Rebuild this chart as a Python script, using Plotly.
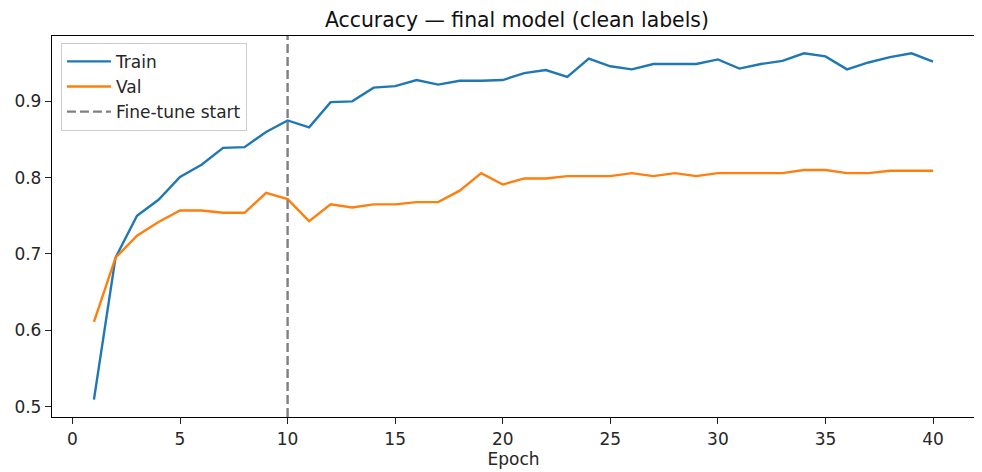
import plotly.graph_objects as go

epochs = list(range(1, 41))
train_acc = [0.509, 0.695, 0.750, 0.771, 0.801, 0.817, 0.839, 0.840, 0.860, 0.875,
             0.866, 0.899, 0.900, 0.918, 0.920, 0.928, 0.922, 0.927, 0.927, 0.928,
             0.937, 0.941, 0.932, 0.956, 0.946, 0.942, 0.949, 0.949, 0.949, 0.955,
             0.943, 0.949, 0.953, 0.963, 0.959, 0.942, 0.951, 0.958, 0.963, 0.952]
val_acc = [0.611, 0.695, 0.724, 0.742, 0.757, 0.757, 0.754, 0.754, 0.780, 0.772,
           0.743, 0.765, 0.761, 0.765, 0.765, 0.768, 0.768, 0.783, 0.806, 0.791,
           0.799, 0.799, 0.802, 0.802, 0.802, 0.806, 0.802, 0.806, 0.802, 0.806,
           0.806, 0.806, 0.806, 0.810, 0.810, 0.806, 0.806, 0.809, 0.809, 0.809]
fine_tune_epoch = 10
x_ticks = [0, 5, 10, 15, 20, 25, 30, 35, 40]
y_ticks = [0.5, 0.6, 0.7, 0.8, 0.9]

FONT = "DejaVu Sans"
TXT = "#262626"

fig = go.Figure()
fig.add_trace(go.Scatter(x=epochs, y=train_acc, mode="lines", name="Train",
                         line=dict(color="#1f77b4", width=2.4)))
fig.add_trace(go.Scatter(x=epochs, y=val_acc, mode="lines", name="Val",
                         line=dict(color="#ff7f0e", width=2.4)))
fig.add_shape(type="line", xref="x", yref="paper", x0=fine_tune_epoch, x1=fine_tune_epoch,
              y0=0, y1=1, line=dict(color="#808080", width=2.4, dash="9px,4px"),
              showlegend=True, name="Fine-tune start", layer="above")

ymin = min(train_acc + val_acc)
ymax = max(train_acc + val_acc)
pad_y = 0.05 * (ymax - ymin)
pad_x = 0.05 * (epochs[-1] - epochs[0])

axis_common = dict(showgrid=False, zeroline=False, showline=True, mirror=True,
                   linecolor="black", linewidth=1.3, ticks="outside", ticklen=6,
                   tickwidth=1.3, tickcolor="#222", automargin=False,
                   tickfont=dict(family=FONT, size=17, color=TXT))

fig.update_layout(
    width=974, height=464,
    margin=dict(l=44, r=7, t=28, b=55),
    paper_bgcolor="white", plot_bgcolor="white",
    title=dict(text="Accuracy — final model (clean labels)", x=0.5225, xanchor="center",
               y=0.975, yanchor="middle", automargin=False,
               font=dict(family=FONT, size=20.4, color="#111")),
    xaxis=dict(range=[epochs[0] - pad_x, epochs[-1] + pad_x], tickvals=x_ticks,
               title=dict(text="Epoch", font=dict(family=FONT, size=17, color=TXT), standoff=4),
               **axis_common),
    yaxis=dict(range=[ymin - pad_y, ymax + pad_y], tickvals=y_ticks,
               tickformat=".1f", **axis_common),
    legend=dict(x=0.0097, y=0.982, xanchor="left", yanchor="top",
                bgcolor="rgba(255,255,255,0.8)", bordercolor="#cccccc", borderwidth=1,
                font=dict(family=FONT, size=17, color=TXT), itemwidth=44),
    showlegend=True,
)

fig.write_html("out.html")
